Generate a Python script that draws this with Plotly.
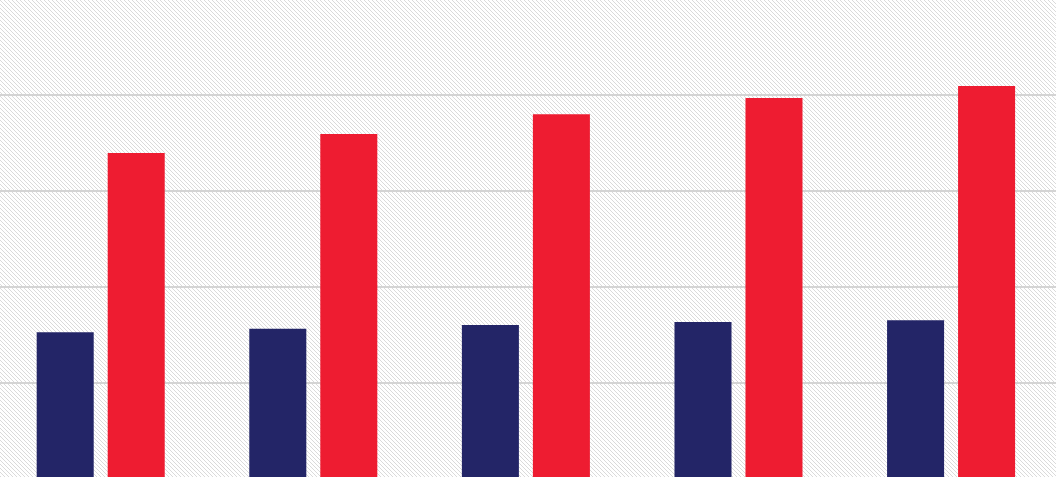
import plotly.graph_objects as go

# five periods, two series
groups = ["A", "B", "C", "D", "E"]
navy_vals = [30.6, 31.3, 32.1, 32.7, 33.1]
red_vals = [67.9, 71.9, 76.0, 79.4, 81.9]

# light diagonal hatch used as the chart background
hatch_svg = (
    "<svg xmlns='http://www.w3.org/2000/svg' width='1056' height='477'>"
    "<defs><pattern id='h' width='4' height='4' patternUnits='userSpaceOnUse'>"
    "<path d='M-1,-1 L5,5 M-1,3 L1,5 M3,-1 L5,1' stroke='%23cdcdcd' stroke-width='0.75'/>"
    "</pattern></defs>"
    "<rect width='1056' height='477' fill='white'/>"
    "<rect width='1056' height='477' fill='url(%23h)'/></svg>"
)

fig = go.Figure()
fig.add_trace(go.Bar(x=groups, y=navy_vals, marker_color="#232567",
                     marker_line_width=0))
fig.add_trace(go.Bar(x=groups, y=red_vals, marker_color="#ee1c31",
                     marker_line_width=0))

fig.update_layout(
    width=1056, height=477,
    margin=dict(l=0, r=0, t=0, b=0),
    barmode="group",
    bargap=0.332,
    bargroupgap=0.197,
    showlegend=False,
    paper_bgcolor="white",
    plot_bgcolor="rgba(0,0,0,0)",
    images=[dict(source="data:image/svg+xml;utf8," + hatch_svg,
                 xref="paper", yref="paper", x=0, y=1, sizex=1, sizey=1,
                 xanchor="left", yanchor="top", sizing="stretch",
                 layer="below")],
)
fig.update_xaxes(range=[-0.4737, 4.4935], showticklabels=False,
                 showgrid=False, zeroline=False, showline=False, ticks="")
fig.update_yaxes(range=[0.42, 99.79], tickvals=[20, 40, 60, 80],
                 showticklabels=False, showgrid=True, gridcolor="#d4d4d4",
                 gridwidth=2, zeroline=False, showline=False, ticks="")

# page body has a default margin, drop it so the chart sits at 0,0
fig.write_html("out.html", config={"displayModeBar": False},
               post_script="document.body.style.margin='0';")
